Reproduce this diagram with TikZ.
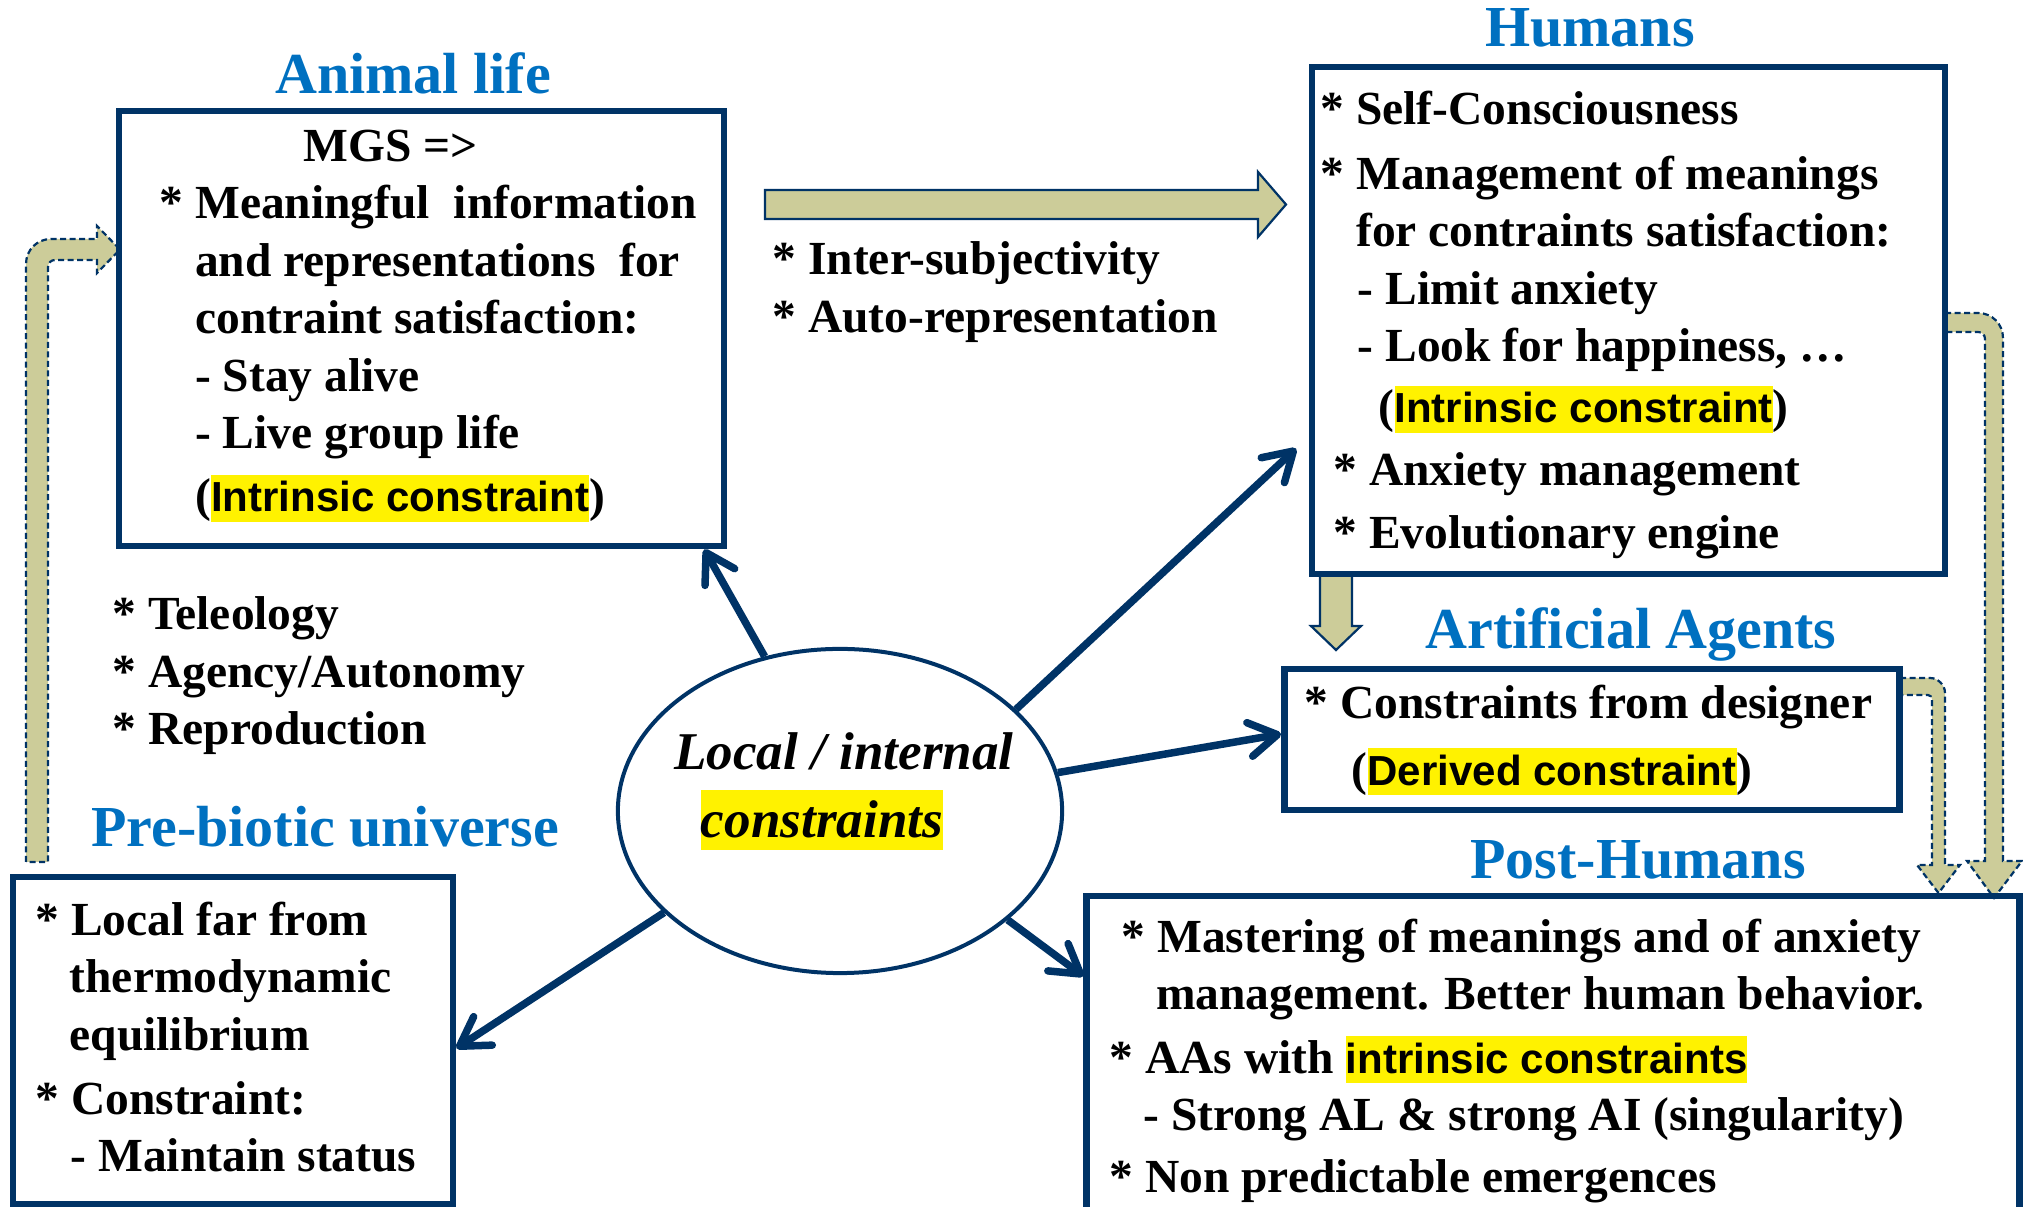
\documentclass[tikz,border=0pt]{standalone}
\usepackage{fontspec}
\setmainfont{Liberation Serif}
\setsansfont{Liberation Sans}
\usepackage{tikz}
\usetikzlibrary{arrows.meta, calc, shapes.geometric}

\definecolor{navy}{RGB}{0,51,102}
\definecolor{headblue}{RGB}{0,112,192}
\definecolor{khaki}{RGB}{204,204,153}

\newcommand{\bodyfont}{\fontsize{13.5}{16.35}\selectfont\bfseries}
\newcommand{\headfont}{\fontsize{16.5}{19.8}\selectfont\bfseries}
\newcommand{\corefont}{\fontsize{15.1}{19.35}\selectfont\bfseries\itshape}
% yellow marker
\newcommand{\hilite}[1]{{\setlength{\fboxsep}{0pt}\colorbox{yellow}{\sffamily\bfseries\fontsize{11.95}{14}\selectfont\rule[-0.1cm]{0pt}{0.47cm}#1}}}
\newcommand{\hilitecore}[1]{{\setlength{\fboxsep}{0pt}\colorbox{yellow}{\rule[-0.12cm]{0pt}{0.6cm}#1}}}

\begin{document}
\begin{tikzpicture}[x=0.01cm, y=-0.01cm,
box/.style={draw=navy, line width=0.065cm, inner sep=0},
lines/.style={anchor=north west, inner sep=0, align=left, font=\bodyfont},
head/.style={anchor=base, inner sep=0, text=headblue, font=\headfont},
link/.style={draw=navy, line width=0.075cm, -{Straight Barb[length=0.28cm, width=0.34cm, round]}},
band/.style={fill=khaki, draw=navy, line width=0.022cm},
dashband/.style={band, dash pattern=on 0.06cm off 0.035cm}]

\useasboundingbox (0,0) rectangle (2023,1207);
\clip (0,0) rectangle (2023,1207);

% wide arrows
\filldraw[band] (765,190) -- (1258,190) -- (1258,172) -- (1286,204.5) -- (1258,237) -- (1258,219) -- (765,219) -- cycle;
\filldraw[band] (1320,574) -- (1320,626) -- (1311,626) -- (1336,650) -- (1361,626) -- (1352,626) -- (1352,574);
\filldraw[dashband] (26,862) -- (26,264) .. controls (26,250) and (37,239) .. (51,239) -- (97,239) -- (97,226) -- (120,249.5) -- (97,273) -- (97,260) -- (55,260) .. controls (51,260) and (48,263) .. (48,267) -- (48,862) -- cycle;
\filldraw[dashband] (1945,313) -- (1978,313) .. controls (1992,313) and (2003,324) .. (2003,338) -- (2003,861) -- (2022,861) -- (1994,898) -- (1967,861) -- (1985,861) -- (1985,339) .. controls (1985,335) and (1982,332) .. (1978,332) -- (1945,332);
\filldraw[dashband] (1900,678) -- (1930,678) .. controls (1938,678) and (1945,685) .. (1945,693) -- (1945,865) -- (1960,865) -- (1938.5,893) -- (1917,865) -- (1932,865) -- (1932,699) .. controls (1932,697) and (1930,695) .. (1928,695) -- (1900,695);

% boxes
\node[box, minimum width=6.05cm, minimum height=4.35cm] (animal) at (421.5,328.5) {};
\node[box, minimum width=6.33cm, minimum height=5.07cm] (humans) at (1628.5,320.5) {};
\node[box, minimum width=6.15cm, minimum height=1.41cm] (agents) at (1592,739.5) {};
\node[box, minimum width=9.32cm, minimum height=3.6cm] (post) at (1553,1076) {};
\node[box, minimum width=4.40cm, minimum height=3.27cm] (prebio) at (233,1040.5) {};
\node[ellipse, draw=navy, line width=0.04cm, minimum width=4.44cm, minimum height=3.24cm, inner sep=0] (core) at (840,811) {};

% titles
\node[head] (animalhd) at (413,93.6) {Animal life};
\node[head] (humanshd) at (1590,46.7) {Humans};
\node[head] (agentshd) at (1631,649) {Artificial Agents};
\node[head] (posthd) at (1638,878.5) {Post-Humans};
\node[head] (prebiohd) at (325,847) {Pre-biotic universe};

\node[lines] (animaltx) at (159,129) {\hspace*{1.44cm}MGS =>\\
* Meaningful\ \ information\\
\hspace*{0.355cm}and representations\ \ for\\
\hspace*{0.355cm}contraint satisfaction:\\
\hspace*{0.355cm}- Stay alive\\
\hspace*{0.355cm}- Live group life\\[0.055cm]
\hspace*{0.355cm}(\hilite{Intrinsic constraint})};

\node[lines] (humanstx) at (1320,90.5) {* Self-Consciousness\\[0.07cm]
* Management of meanings\\
\hspace*{0.355cm}for contraints satisfaction:\\
\hspace*{0.37cm}- Limit anxiety\\
\hspace*{0.37cm}- Look for happiness, …\\[0.035cm]
\hspace*{0.58cm}(\hilite{Intrinsic constraint})\\[0.055cm]
\hspace*{0.13cm}* Anxiety management\\[0.055cm]
\hspace*{0.13cm}* Evolutionary engine};

\node[lines] (intertx) at (772,241) {* Inter-subjectivity\\
* Auto-representation};

\node[lines] (teletx) at (112,596) {* Teleology\\
* Agency/Autonomy\\
* Reproduction};

\node[lines] (prebiotx) at (35,901) {* Local far from\\
\hspace*{0.34cm}thermodynamic\\
\hspace*{0.34cm}equilibrium\\[0.065cm]
* Constraint:\\
\hspace*{0.35cm}- Maintain status};

\node[lines] (agentstx) at (1304,684) {* Constraints from designer\\[0.095cm]
\hspace*{0.47cm}(\hilite{Derived constraint})};

\node[lines] (posttx) at (1109,918) {\hspace*{0.12cm}* Mastering of meanings and of anxiety\\
\hspace*{0.465cm}management. Better human behavior.\\[0.06cm]
* AAs with \hilite{intrinsic constraints}\\
\hspace*{0.34cm}- Strong AL \& strong AI (singularity)\\[0.045cm]
* Non predictable emergences};

\node[anchor=north, inner sep=0, align=center, font=\corefont] (coretx) at (844,732) {Local / internal\\
\hspace*{-0.44cm}\hilitecore{constraints}};

% links from the core
\draw[link] (core.116) -- (animal.-38.6);
\draw[link, shorten >=0.17cm] (core.30) -- (humans.200);
\draw[link] (core.10) -- (agents.179);
\draw[link] (core.-33) -- (post.168);
\draw[link] (core.210.5) -- (prebio.-2);

\end{tikzpicture}
\end{document}
